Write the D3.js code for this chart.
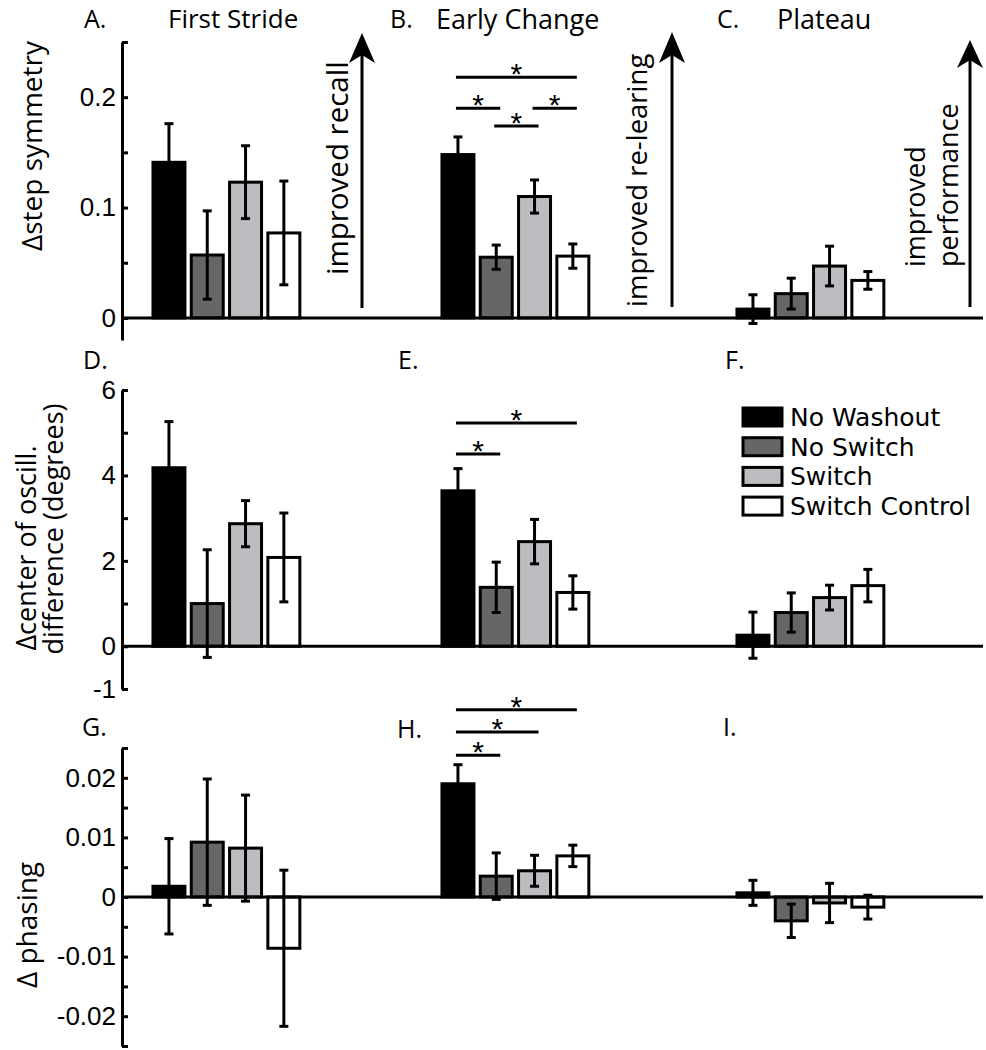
<!DOCTYPE html>
<html><head><meta charset="utf-8">
<script src="https://cdn.jsdelivr.net/npm/d3@7"></script>
<style>
body{margin:0;background:#fff}
svg text{font-family:'Open Sans',sans-serif;fill:#000}
.tick text{font-family:'Liberation Sans',Arial,sans-serif}
</style>
</head><body>
<svg id="chart" width="986" height="1050"></svg>
<script>
// ---------- data ----------
const groups = ["No Washout", "No Switch", "Switch", "Switch Control"];
const groupFills = ["#000000", "#666667", "#bcbdc0", "#ffffff"];

const columnTitles = ["First Stride", "Early Change", "Plateau"];
const panelLetters = ["A.", "B.", "C.", "D.", "E.", "F.", "G.", "H.", "I."];

// Δ step symmetry
const stepFirst = [0.141, 0.057, 0.123, 0.077];
const stepFirstErr = [0.035, 0.040, 0.033, 0.047];
const stepEarly = [0.148, 0.055, 0.110, 0.056];
const stepEarlyErr = [0.016, 0.011, 0.015, 0.011];
const stepPlateau = [0.008, 0.022, 0.047, 0.034];
const stepPlateauErr = [0.013, 0.014, 0.018, 0.008];

// Δ center of oscillation difference (degrees)
const coFirst = [4.18, 1.00, 2.87, 2.08];
const coFirstErr = [1.08, 1.26, 0.54, 1.04];
const coEarly = [3.64, 1.38, 2.45, 1.26];
const coEarlyErr = [0.52, 0.59, 0.52, 0.39];
const coPlateau = [0.26, 0.79, 1.14, 1.42];
const coPlateauErr = [0.54, 0.46, 0.29, 0.38];

// Δ phasing
const phFirst = [0.0018, 0.0092, 0.0082, -0.0086];
const phFirstErr = [0.0080, 0.0106, 0.0089, 0.0131];
const phEarly = [0.0190, 0.0035, 0.0044, 0.0069];
const phEarlyErr = [0.0032, 0.0039, 0.0026, 0.0018];
const phPlateau = [0.0007, -0.0040, -0.0010, -0.0017];
const phPlateauErr = [0.0021, 0.0028, 0.0033, 0.0020];

// axis ticks
const stepTicks = [0, 0.05, 0.1, 0.15, 0.2, 0.25];
const stepTickLabels = ["0", "", "0.1", "", "0.2", ""];
const coTicks = [-1, 0, 1, 2, 3, 4, 5, 6];
const coTickLabels = ["-1", "0", "", "2", "", "4", "", "6"];
const phTicks = [-0.025, -0.02, -0.015, -0.01, -0.005, 0, 0.005, 0.01, 0.015, 0.02, 0.025];
const phTickLabels = ["", "-0.02", "", "-0.01", "", "0", "", "0.01", "", "0.02", ""];

// significance brackets: [fromGroup, toGroup, level]
const sigStepEarly = [[0, 3, 0.218], [0, 1, 0.190], [2, 3, 0.190], [1, 2, 0.174]];
const sigCoEarly = [[0, 3, 5.23], [0, 1, 4.50]];
const sigPhEarly = [[0, 3, 0.0314], [0, 2, 0.0277], [0, 1, 0.0238]];

// ---------- layout ----------
const svg = d3.select("#chart");
const axisX = 122, lineEnd = 983;
const colStart = [149.8, 438.8, 733.8];
const step = 38.3;

const rows = [
  { domain: [-0.02, 0.25], range: [340, 42], ticks: stepTicks, labels: stepTickLabels,
    panels: [[stepFirst, stepFirstErr, null], [stepEarly, stepEarlyErr, sigStepEarly], [stepPlateau, stepPlateauErr, null]] },
  { domain: [-1, 6], range: [689, 390], ticks: coTicks, labels: coTickLabels,
    panels: [[coFirst, coFirstErr, null], [coEarly, coEarlyErr, sigCoEarly], [coPlateau, coPlateauErr, null]] },
  { domain: [-0.025, 0.025], range: [1046, 748], ticks: phTicks, labels: phTickLabels,
    panels: [[phFirst, phFirstErr, null], [phEarly, phEarlyErr, sigPhEarly], [phPlateau, phPlateauErr, null]] }
];

rows.forEach((row, ri) => {
  const y = d3.scaleLinear().domain(row.domain).range(row.range);
  const g = svg.append("g");
  const ax = d3.axisLeft(y).tickValues(row.ticks)
    .tickFormat((d, i) => row.labels[i]).tickSizeInner(-6).tickSizeOuter(0).tickPadding(6);
  const axg = g.append("g").attr("transform", `translate(${axisX},0)`).call(ax);
  axg.select(".domain").attr("stroke", "#000").attr("stroke-width", 3);
  axg.selectAll(".tick line").attr("stroke", "#000").attr("stroke-width", 3);
  axg.selectAll(".tick text").attr("font-size", 26).attr("fill", "#000");

  row.panels.forEach((p, ci) => {
    const [means] = p;
    const x = d3.scaleBand().domain(groups)
      .range([colStart[ci], colStart[ci] + 4 * step]).paddingInner(0.165).paddingOuter(0.0825);
    const pg = g.append("g");
    pg.selectAll("rect").data(groups).join("rect")
      .attr("x", d => x(d))
      .attr("width", x.bandwidth())
      .attr("y", (d, i) => y(Math.max(0, means[i])))
      .attr("height", (d, i) => Math.abs(y(means[i]) - y(0)))
      .attr("fill", (d, i) => groupFills[i])
      .attr("stroke", "#000").attr("stroke-width", 3);
    p.x = x; p.g = pg;
  });
  // zero line
  g.append("line").attr("x1", axisX).attr("x2", lineEnd)
    .attr("y1", y(0)).attr("y2", y(0)).attr("stroke", "#000").attr("stroke-width", 3);

  row.panels.forEach((p) => {
    const [means, errs, sigs] = p;
    const x = p.x, pg = p.g;
    const cx = d => x(d) + x.bandwidth() / 2;
    const eb = pg.append("g").attr("stroke", "#000").attr("stroke-width", 3);
    groups.forEach((d, i) => {
      const lo = y(means[i] - errs[i]), hi = y(means[i] + errs[i]);
      eb.append("line").attr("x1", cx(d)).attr("x2", cx(d)).attr("y1", lo).attr("y2", hi);
      eb.append("line").attr("x1", cx(d) - 4.5).attr("x2", cx(d) + 4.5).attr("y1", lo).attr("y2", lo);
      eb.append("line").attr("x1", cx(d) - 4.5).attr("x2", cx(d) + 4.5).attr("y1", hi).attr("y2", hi);
    });
    if (sigs) {
      sigs.forEach(([a, b, lvl]) => {
        const x1 = cx(groups[a]) - 2, x2 = cx(groups[b]) + 4;
        const yy = y(lvl);
        pg.append("line").attr("x1", x1).attr("x2", x2).attr("y1", yy).attr("y2", yy)
          .attr("stroke", "#000").attr("stroke-width", 3);
        pg.append("text").attr("x", (x1 + x2) / 2).attr("y", yy + 7)
          .attr("text-anchor", "middle").attr("font-size", 30)
          .style("font-family", "'Liberation Sans',Arial,sans-serif").text("*");
      });
    }
  });
});

// panel letters and titles
const letterPos = [[84, 28], [390, 28], [717, 28], [83, 369], [398, 369], [725, 369], [82, 736], [397, 738], [723, 736]];
panelLetters.forEach((t, i) => {
  svg.append("text").attr("x", letterPos[i][0]).attr("y", letterPos[i][1]).attr("font-size", 25).text(t);
});
const titlePos = [[168, 28], [436, 29], [777, 29]];
const titleSize = [26, 27, 27];
columnTitles.forEach((t, i) => {
  svg.append("text").attr("x", titlePos[i][0]).attr("y", titlePos[i][1]).attr("font-size", titleSize[i]).text(t);
});

// y axis labels
function vtext(x, y, anchor, size, txt) {
  svg.append("text").attr("transform", `translate(${x},${y}) rotate(-90)`)
    .attr("text-anchor", anchor).attr("font-size", size).text(txt);
}
vtext(42, 146, "middle", 28, "Δstep symmetry");
vtext(36, 548, "middle", 27, "Δcenter of oscill.");
vtext(63, 529, "middle", 27, "difference (degrees)");
vtext(37, 925, "middle", 28, "Δ phasing");

// improvement arrows
function arrow(x, tip, base, bottom) {
  svg.append("line").attr("x1", x).attr("x2", x).attr("y1", bottom).attr("y2", tip + 12)
    .attr("stroke", "#000").attr("stroke-width", 3);
  svg.append("path")
    .attr("d", `M${x},${tip} L${x + 13},${base + 3} L${x},${base - 5} L${x - 13},${base + 3} Z`)
    .attr("fill", "#000");
}
arrow(362, 33, 60, 308);
arrow(672, 32, 60, 307);
arrow(970, 40, 65, 307);
vtext(348, 275, "start", 29.5, "improved recall");
vtext(647, 307, "start", 27.5, "improved re-learing");
vtext(925, 267, "start", 27, "improved");
vtext(958, 267, "start", 27, "performance");

// legend
const lg = svg.append("g");
groups.forEach((gname, i) => {
  const yy = 408 + i * 29.7;
  lg.append("rect").attr("x", 743).attr("y", yy).attr("width", 39).attr("height", 18)
    .attr("fill", groupFills[i]).attr("stroke", "#000").attr("stroke-width", 3);
  lg.append("text").attr("x", 790).attr("y", yy + 18).attr("font-size", 25)
    .style("font-family", "'DejaVu Sans',sans-serif").text(gname);
});
</script>
</body></html>
